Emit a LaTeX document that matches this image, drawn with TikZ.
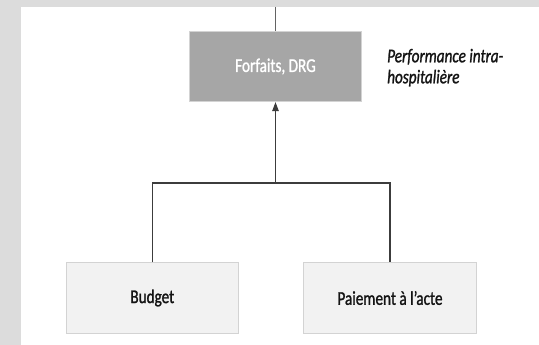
\documentclass[tikz,border=0pt]{standalone}
\usepackage{fontspec}
\setmainfont{Carlito}[FakeStretch=0.78,FakeBold=1.2]
\usetikzlibrary{arrows.meta}
\definecolor{bgGray}{HTML}{DCDCDC}
\definecolor{topFill}{HTML}{A6A6A6}
\definecolor{lowFill}{HTML}{F2F2F2}
\definecolor{lowBorder}{HTML}{D3D3D3}
\definecolor{lineCol}{HTML}{3C3C3C}
\definecolor{txtCol}{HTML}{141414}
\begin{document}
\begin{tikzpicture}[x=1pt,y=-1pt,
  boxtext/.style={font=\fontsize{19.5}{21}\selectfont},
  topbox/.style={boxtext, draw=lowBorder, line width=0.8pt, fill=topFill, minimum width=172.5pt, minimum height=70.5pt, inner sep=0pt, text=white},
  lowbox/.style={boxtext, draw=lowBorder, line width=1pt, fill=lowFill, minimum width=172.5pt, minimum height=70.5pt, inner sep=0pt, text=txtCol},
  conn/.style={draw=lineCol, line width=1.2pt},
]
\fill[bgGray] (0,0) rectangle (539,345);
\fill[white] (21,7) rectangle (539,345);
\useasboundingbox (0,0) rectangle (539,345);

\node[topbox] (drg) at (275.5,66.5) {Forfaits, DRG};
\node[lowbox] (budget) at (152.3,298) {Budget};
\node[lowbox] (acte) at (390,298) {Paiement à l’acte};
\node[anchor=base west, align=left, inner sep=0pt, text=txtCol, font=\fontsize{19.5}{21}\selectfont\itshape] (perf) at (387,83.3) {Performance intra-\\hospitalière};

\coordinate (top) at (275.5,7);
\coordinate (junc) at (275.5,183);
\draw[conn, draw=lineCol!80!white] (top) -- (drg.north);
\draw[conn, -{Triangle[length=9pt,width=6.5pt]}] (junc) -- (drg.south);
\draw[conn] (budget.north) |- (junc) -| (acte.north);
\end{tikzpicture}
\end{document}
